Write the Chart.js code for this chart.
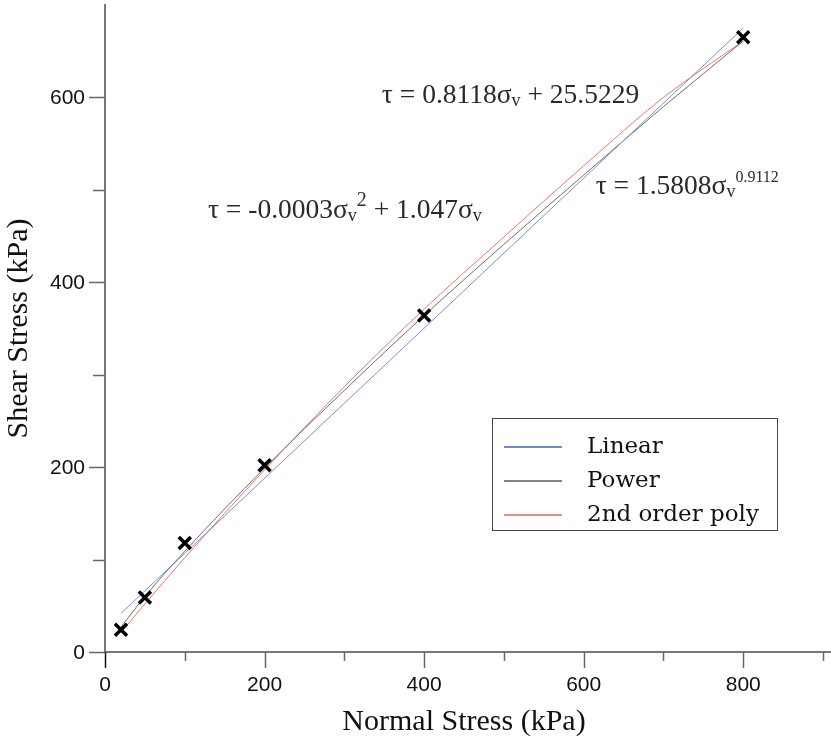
<!DOCTYPE html>
<html><head><meta charset="utf-8">
<script src="https://cdn.jsdelivr.net/npm/chart.js@4.4.1/dist/chart.umd.min.js"></script>
<style>html,body{margin:0;padding:0;background:#fff;}#wrap{width:831px;height:740px;}</style>
</head><body><div id="wrap"><canvas id="c" width="831" height="740"></canvas></div>
<script>
// ---- data ----
const seriesNames = ['Linear', 'Power', '2nd order poly'];
const sampleNormal = [20, 50, 100, 200, 400, 800];
const sampleShear  = [24, 59, 118, 202, 364, 665];
const linearX = [20, 800];
const linearY = [41.8, 675];
const curveX  = [20, 50, 100, 200, 300, 400, 500, 600, 700, 800];
const powerY  = [27, 60, 109, 199, 283, 364, 441, 516, 590, 661];
const polyY   = [21, 52, 102, 197, 287, 371, 449, 526, 600, 661];
const xTickValues = [0, 100, 200, 300, 400, 500, 600, 700, 800, 900];
const yTickValues = [0, 100, 200, 300, 400, 500, 600];
const xTickLabels = [0, 200, 400, 600, 800];
const yTickLabels = [0, 200, 400, 600];
const xTitle = 'Normal Stress (kPa)';
const yTitle = 'Shear Stress (kPa)';
// equation text pieces: [text, kind] kind: n normal, b subscript, p superscript
const eqLinear = [['τ = 0.8118σ','n'],['v','b'],[' + 25.5229','n']];
const eqPoly   = [['τ = -0.0003σ','n'],['v','b'],['2','p'],[' + 1.047σ','n'],['v','b']];
const eqPower  = [['τ = 1.5808σ','n'],['v','b'],['0.9112','p']];
const eqAnchors = [[347, 594, eqLinear], [129, 470, eqPoly], [615, 495, eqPower]]; // data coords of text start

const pts = (xs, ys) => xs.map((x, i) => ({x, y: ys[i]}));

const tickPlugin = {
  id: 'ticksAndText',
  afterDraw(chart) {
    const ctx = chart.ctx;
    const xs = chart.scales.x, ys = chart.scales.y;
    const ca = chart.chartArea;
    ctx.save();
    // extend x axis line to the right edge
    ctx.strokeStyle = '#777';
    ctx.lineWidth = 2;
    ctx.beginPath(); ctx.moveTo(ca.right - 1, ca.bottom); ctx.lineTo(chart.width, ca.bottom); ctx.stroke();
    ctx.lineWidth = 1.5;
    xs.ticks.forEach(t => {
      const px = Math.round(xs.getPixelForValue(t.value)) + 0.5;
      const len = (t.value % 200 === 0) ? 16 : 9;
      ctx.strokeStyle = t.value === 0 ? '#111' : '#666';
      ctx.beginPath(); ctx.moveTo(px, ca.bottom); ctx.lineTo(px, ca.bottom + len); ctx.stroke();
    });
    ctx.strokeStyle = '#666';
    ys.ticks.forEach(t => {
      const py = Math.round(ys.getPixelForValue(t.value)) + 0.5;
      const len = (t.value % 200 === 0) ? 16 : 12;
      ctx.beginPath(); ctx.moveTo(ca.left - len, py); ctx.lineTo(ca.left, py); ctx.stroke();
    });
    // tick labels
    ctx.fillStyle = '#111';
    ctx.font = '21px "Liberation Sans"';
    ctx.textBaseline = 'middle';
    ctx.textAlign = 'center';
    xTickLabels.forEach(v => ctx.fillText(String(v), xs.getPixelForValue(v), ca.bottom + 33));
    ctx.textAlign = 'right';
    yTickLabels.forEach(v => ctx.fillText(String(v), ca.left - 20, ys.getPixelForValue(v) + 1));
    // equations
    ctx.fillStyle = '#2a2a2a';
    ctx.textBaseline = 'alphabetic';
    ctx.textAlign = 'left';
    eqAnchors.forEach(([dx, dy, parts]) => {
      let x = xs.getPixelForValue(dx);
      const y = ys.getPixelForValue(dy);
      parts.forEach(([txt, kind]) => {
        let size = 27.5, off = 0;
        if (kind === 'b') { size = 18; off = 3; }
        if (kind === 'p') { size = (txt.length > 1 ? 16 : 20); off = -12; }
        ctx.font = size + 'px "Liberation Serif"';
        ctx.fillText(txt, x, y + off);
        x += ctx.measureText(txt).width;
      });
    });
    // legend
    const bx = 492.5, by = 418.5, bw = 285, bh = 112;
    ctx.fillStyle = '#fff';
    ctx.fillRect(bx, by, bw, bh);
    ctx.strokeStyle = '#444';
    ctx.lineWidth = 1;
    ctx.strokeRect(bx, by, bw, bh);
    const legendColors = ['#4a5fb0', '#5a5a48', '#e86060'];
    ctx.font = '23px "DejaVu Serif"';
    ctx.textBaseline = 'middle';
    seriesNames.forEach((name, i) => {
      const ly = 447 + i * 34;
      ctx.strokeStyle = legendColors[i];
      ctx.lineWidth = 1.5;
      ctx.beginPath(); ctx.moveTo(504, ly); ctx.lineTo(562, ly); ctx.stroke();
      ctx.fillStyle = '#111';
      ctx.fillText(name, 587, ly);
    });
    ctx.restore();
  }
};

new Chart(document.getElementById('c'), {
  type: 'scatter',
  data: {
    datasets: [
      { label: 'data', data: pts(sampleNormal, sampleShear), pointStyle: 'crossRot', pointRadius: 8.5,
        borderColor: '#000', backgroundColor: '#000', borderWidth: 3.5, showLine: false },
      { label: seriesNames[0], data: pts(linearX, linearY), showLine: true, pointRadius: 0,
        borderColor: '#7b8ee0', borderWidth: 1 },
      { label: seriesNames[1], data: pts(curveX, powerY), showLine: true, pointRadius: 0,
        borderColor: '#707060', borderWidth: 1, cubicInterpolationMode: 'monotone' },
      { label: seriesNames[2], data: pts(curveX, polyY), showLine: true, pointRadius: 0,
        borderColor: '#f07070', borderWidth: 1, cubicInterpolationMode: 'monotone' }
    ]
  },
  options: {
    responsive: false,
    animation: false,
    devicePixelRatio: 1,
    layout: { autoPadding: false, padding: { top: 5, right: 8, bottom: 0, left: 0 } },
    plugins: { legend: { display: false }, tooltip: { enabled: false } },
    scales: {
      x: {
        type: 'linear', min: 0, max: 900,
        afterBuildTicks: s => { s.ticks = xTickValues.map(v => ({value: v})); },
        afterFit: s => { s.height = 88; },
        grid: { drawOnChartArea: false, drawTicks: false, color: 'rgba(0,0,0,0)' },
        border: { display: true, color: '#777', width: 2 },
        ticks: { display: false },
        title: { display: true, text: xTitle, color: '#111',
          font: { family: 'Liberation Serif', size: 30 }, padding: { top: 4, bottom: 0 } }
      },
      y: {
        type: 'linear', min: 0, max: 700,
        afterBuildTicks: s => { s.ticks = yTickValues.map(v => ({value: v})); },
        afterFit: s => { s.width = 105; },
        grid: { drawOnChartArea: false, drawTicks: false, color: 'rgba(0,0,0,0)' },
        border: { display: true, color: '#777', width: 2 },
        ticks: { display: false },
        title: { display: true, text: yTitle, color: '#111',
          font: { family: 'Liberation Serif', size: 30 }, padding: { top: 1, bottom: 0 } }
      }
    }
  },
  plugins: [tickPlugin]
});
</script></body></html>
